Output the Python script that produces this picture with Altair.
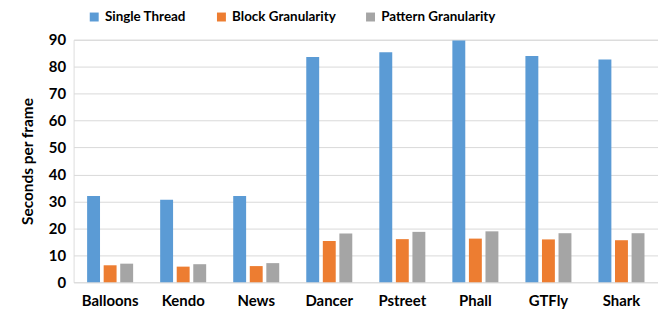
import altair as alt
import pandas as pd

categories = ["Balloons", "Kendo", "News", "Dancer", "Pstreet", "Phall", "GTFly", "Shark"]
series = ["Single Thread", "Block Granularity", "Pattern Granularity"]
single_thread = [32.0, 30.6, 32.0, 83.6, 85.4, 89.7, 84.0, 82.7]
block_gran = [6.3, 5.8, 6.0, 15.3, 16.0, 16.2, 15.9, 15.6]
pattern_gran = [6.9, 6.7, 7.1, 18.1, 18.7, 18.9, 18.2, 18.2]
colors = ["#5B9BD5", "#ED7D31", "#A5A5A5"]
y_ticks = [0, 10, 20, 30, 40, 50, 60, 70, 80, 90]

rows = []
for name, vals in zip(series, [single_thread, block_gran, pattern_gran]):
    for c, v in zip(categories, vals):
        rows.append({"Video": c, "Series": name, "Value": v, "order": series.index(name)})
df = pd.DataFrame(rows)

FONT = "Lato"

chart = alt.Chart(df).mark_bar().encode(
    x=alt.X("Video:N", sort=categories,
            scale=alt.Scale(paddingInner=0.37, paddingOuter=0.185),
            axis=alt.Axis(title=None, labelAngle=0, domain=False, ticks=False,
                          labelFont=FONT, labelFontWeight="bold", labelFontSize=15,
                          labelColor="#000000", labelPadding=11)),
    xOffset=alt.XOffset("Series:N", sort=series,
                        scale=alt.Scale(paddingInner=0.22, paddingOuter=0)),
    y=alt.Y("Value:Q", scale=alt.Scale(domain=[0, 90], nice=False),
            axis=alt.Axis(title="Seconds per frame", values=y_ticks, domain=False, ticks=False,
                          gridColor="#D9D9D9", gridWidth=1,
                          labelFont=FONT, labelFontWeight="bold", labelFontSize=15,
                          labelColor="#000000", labelPadding=8,
                          titleFont=FONT, titleFontWeight="bold", titleFontSize=15.5,
                          titleColor="#000000", titlePadding=13)),
    color=alt.Color("Series:N", sort=series,
                    scale=alt.Scale(domain=series, range=colors),
                    legend=alt.Legend(title=None, orient="none", direction="horizontal",
                                      legendX=14, legendY=-30,
                                      symbolType="square", symbolSize=81, symbolStrokeWidth=0,
                                      labelFont=FONT, labelFontWeight="bold", labelFontSize=13.5,
                                      labelColor="#000000", columnPadding=28, labelOffset=4)),
).properties(
    width=588, height=244,
    autosize=alt.AutoSizeParams(type="none"),
    padding={"left": 66, "top": 31, "right": 0, "bottom": 32},
).configure_view(stroke=None).configure(background="white")

chart.save("out.html", embed_options={"renderer": "svg", "actions": False})
